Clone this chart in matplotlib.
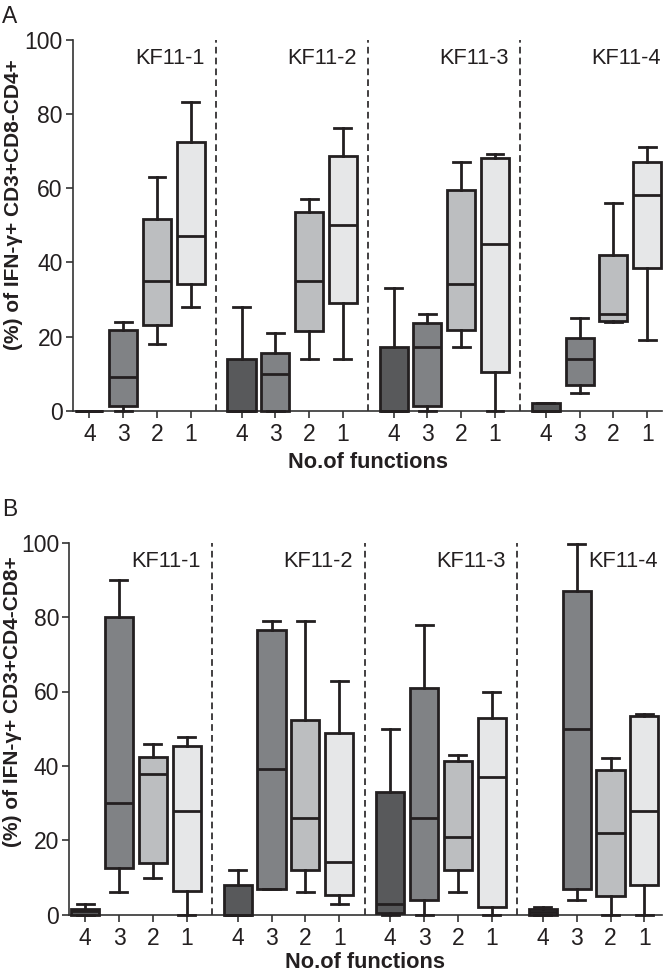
import matplotlib
matplotlib.use("Agg")
import matplotlib.pyplot as plt

plt.rcParams['font.family'] = ['Liberation Sans', 'DejaVu Sans']

groups = ["KF11-1", "KF11-2", "KF11-3", "KF11-4"]
functions = ["4", "3", "2", "1"]

# Panel A: IFN-γ+ CD3+CD8-CD4+ (order per group: 4, 3, 2, 1)
A_whislo = [0, 0, 18.1, 28.1, 0, 0, 14.0, 14.0, 0, 0, 17.1, 0, 0, 4.9, 24.0, 19.1]
A_q1 = [0, 1.3, 23.2, 34.1, 0, 0, 21.4, 29.0, 0, 1.3, 21.9, 10.5, 0, 6.8, 24.3, 38.4]
A_med = [0, 9.0, 34.9, 47.0, 0, 10.0, 34.9, 50.0, 0, 17.1, 34.1, 45.1, 0, 13.9, 26.1, 58.2]
A_q3 = [0, 21.9, 51.6, 72.6, 14.0, 15.6, 53.6, 68.7, 17.1, 23.6, 59.6, 68.3, 2.0, 19.5, 42.0, 67.2]
A_whishi = [0, 24.0, 63.1, 83.3, 28.1, 20.9, 57.0, 76.2, 33.2, 26.0, 67.1, 69.2, 2.0, 25.1, 56.1, 71.1]

# Panel B: IFN-γ+ CD3+CD4-CD8+
B_whislo = [0, 6.0, 10.0, 0, 0, 7.0, 6.0, 3.0, 0, 0, 6.0, 0, 0, 4.0, 0, 0]
B_q1 = [0, 12.5, 14.0, 6.5, 0, 7.0, 12.0, 5.4, 0.4, 4.0, 12.0, 2.0, 0, 7.0, 4.9, 8.0]
B_med = [1.0, 29.9, 37.9, 28.0, 0, 39.1, 25.9, 14.1, 3.0, 26.0, 20.9, 37.1, 0.8, 50.0, 22.0, 28.0]
B_q3 = [1.6, 79.9, 42.5, 45.4, 8.0, 76.4, 52.4, 48.9, 33.0, 60.9, 41.4, 53.0, 1.6, 87.0, 38.9, 53.5]
B_whishi = [3.0, 90.0, 45.9, 47.8, 12.0, 78.9, 78.9, 62.9, 50.0, 77.9, 42.9, 59.9, 2.2, 99.7, 42.0, 53.9]

fill_colors = ['#58595b', '#808285', '#bcbec0', '#e6e7e8']
edge = '#231f20'

W, H = 666, 973
fig = plt.figure(figsize=(W / 100, H / 100), dpi=100)


def px_axes(left, top, right, bottom):
    return fig.add_axes([left / W, 1 - bottom / H, (right - left) / W, (bottom - top) / H])


def draw_panel(ax, whislo, q1, med, q3, whishi, ylabel, xlim):
    positions = []
    stats = []
    for g in range(len(groups)):
        for i in range(len(functions)):
            k = g * len(functions) + i
            positions.append(g * 4.5 + i)
            stats.append(dict(whislo=whislo[k], q1=q1[k], med=med[k], q3=q3[k],
                              whishi=whishi[k], fliers=[]))
    lw = 2.0
    art = ax.bxp(stats, positions=positions, widths=0.83, capwidths=0.5,
                 patch_artist=True, showfliers=False, manage_ticks=False,
                 boxprops=dict(edgecolor=edge, linewidth=lw),
                 medianprops=dict(color=edge, linewidth=lw),
                 whiskerprops=dict(color=edge, linewidth=lw),
                 capprops=dict(color=edge, linewidth=lw))
    for k, b in enumerate(art['boxes']):
        b.set_facecolor(fill_colors[k % 4])
    for key in art:
        for a in art[key]:
            a.set_clip_on(False)
            a.set_zorder(3)
    for g in range(len(groups)):
        if g < len(groups) - 1:
            ax.axvline(g * 4.5 + 3.75, color=edge, lw=1.2, ls=(0, (4, 2.5)), zorder=1)
        ax.text(g * 4.5 + 3.4, 93.6, groups[g], ha='right', va='baseline', fontsize=15.7,
                color='#231f20')
    ax.set_xlim(*xlim)
    ax.set_ylim(0, 100)
    ax.set_yticks([0, 20, 40, 60, 80, 100])
    ax.set_xticks(positions)
    ax.set_xticklabels(functions * len(groups))
    for s in ['top', 'right']:
        ax.spines[s].set_visible(False)
    for s in ['left', 'bottom']:
        ax.spines[s].set_color('#333333')
        ax.spines[s].set_linewidth(1.2)
    ax.tick_params(direction='out', length=5, width=1.2, color='#333333',
                   labelsize=16.5, pad=2, labelcolor='#231f20')
    ax.tick_params(axis='x', pad=3.5)
    ax.set_ylabel(ylabel, fontsize=15, fontweight='bold', color='#231f20')
    ax.set_xlabel('No.of functions', fontsize=15.7, fontweight='bold', color='#231f20')
    return positions


axA = px_axes(72.5, 40, 661.7, 410.7)
draw_panel(axA, A_whislo, A_q1, A_med, A_q3, A_whishi,
           '(%) of IFN-γ+ CD3+CD8-CD4+', (-0.5, 16.93))
axB = px_axes(68.8, 542.7, 661.7, 914.7)
draw_panel(axB, B_whislo, B_q1, B_med, B_q3, B_whishi,
           '(%) of IFN-γ+ CD3+CD4-CD8+', (-0.48, 17.01))


def place_labels(ax, left, top, right, bottom, xl_x, xl_y, yl_x, yl_y):
    w = right - left
    h = bottom - top
    ax.xaxis.set_label_coords((xl_x - left) / w, (bottom - xl_y) / h)
    ax.xaxis.label.set_verticalalignment('center')
    ax.yaxis.set_label_coords((yl_x - left) / w, (bottom - yl_y) / h)
    ax.yaxis.label.set_verticalalignment('center')


place_labels(axA, 72.5, 40, 661.7, 410.7, 368, 462, 13.5, 205)
place_labels(axB, 68.8, 542.7, 661.7, 914.7, 365, 963, 12.5, 702)

fig.text(2 / W, 1 - 23 / H, 'A', fontsize=16.5, va='baseline', ha='left', color='#231f20')
fig.text(2 / W, 1 - 516 / H, 'B', fontsize=16.5, va='baseline', ha='left', color='#231f20')

fig.savefig('out.png', dpi=100)
